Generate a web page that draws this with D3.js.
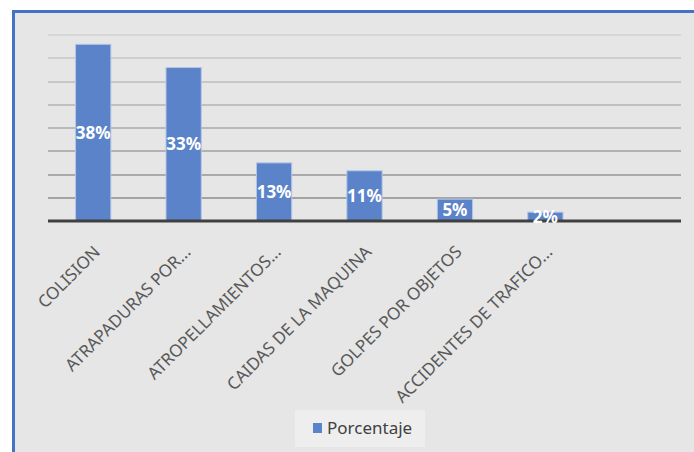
<!DOCTYPE html>
<html>
<head>
<meta charset="utf-8">
<script src="https://cdn.jsdelivr.net/npm/d3@7"></script>
<style>
  body { margin: 0; background: #fff; }
  svg { display: block; }
</style>
</head>
<body>
<svg id="chart" width="694" height="452"></svg>
<script>
const categories = ["COLISION", "ATRAPADURAS POR...", "ATROPELLAMIENTOS...", "CAIDAS DE LA MAQUINA", "GOLPES POR OBJETOS", "ACCIDENTES DE TRAFICO...", ""];
const porcentaje = [0.38, 0.33, 0.125, 0.108, 0.047, 0.019];
const percentLabels = ["38%", "33%", "13%", "11%", "5%", "2%"];
const gridTicks = [0, 0.05, 0.10, 0.15, 0.20, 0.25, 0.30, 0.35, 0.40];
const seriesName = "Porcentaje";

const svg = d3.select("#chart");
const width = 694, height = 452;
const margin = { top: 35, right: 13, bottom: 231, left: 48 };

// frame
svg.append("rect")
  .attr("x", 13.5).attr("y", 11.5)
  .attr("width", width).attr("height", height)
  .attr("fill", "#e6e6e6")
  .attr("stroke", "#4472c4").attr("stroke-width", 3);

const x = d3.scaleBand()
  .domain(categories)
  .range([margin.left, width - margin.right])
  .paddingInner(0.61).paddingOuter(0.305);

const y = d3.scaleLinear()
  .domain([0, 0.40])
  .range([height - margin.bottom, margin.top]);

const gridColor = d3.scaleLinear().domain([0.40, 0.05]).range(["#d6d6d6", "#a3a3a3"]);

// gridlines
svg.append("g")
  .selectAll("line")
  .data(gridTicks.filter(t => t > 0))
  .join("line")
  .attr("x1", margin.left).attr("x2", width - margin.right)
  .attr("y1", d => Math.round(y(d))).attr("y2", d => Math.round(y(d)))
  .attr("stroke", d => gridColor(d))
  .attr("stroke-width", 2);

// bars
const data = porcentaje.map((v, i) => ({ cat: categories[i], value: v, label: percentLabels[i] }));

svg.append("g")
  .selectAll("rect")
  .data(data)
  .join("rect")
  .attr("x", d => x(d.cat))
  .attr("y", d => y(d.value))
  .attr("width", x.bandwidth())
  .attr("height", d => y(0) - y(d.value))
  .attr("fill", "#5b83c9")
  .attr("stroke", "#b4c5e6")
  .attr("stroke-width", 1);

// axis line
svg.append("line")
  .attr("x1", margin.left).attr("x2", width - margin.right)
  .attr("y1", y(0)).attr("y2", y(0))
  .attr("stroke", "#404040").attr("stroke-width", 3);

// data labels
svg.append("g")
  .selectAll("text")
  .data(data)
  .join("text")
  .attr("x", d => x(d.cat) + x.bandwidth() / 2)
  .attr("y", d => (y(d.value) + y(0)) / 2)
  .attr("dy", "0.36em")
  .attr("text-anchor", "middle")
  .attr("fill", "#fff")
  .attr("font-family", "'Noto Sans', sans-serif")
  .attr("font-weight", "bold")
  .attr("font-size", 17)
  .text(d => d.label);

// category labels
svg.append("g")
  .selectAll("text")
  .data(categories.filter(c => c !== ""))
  .join("text")
  .attr("transform", d => `translate(${x(d) + x.bandwidth() / 2 + 8},${y(0) + 32}) rotate(-45)`)
  .attr("text-anchor", "end")
  .attr("fill", "#595959")
  .attr("font-family", "'Noto Sans', sans-serif")
  .attr("font-size", 17)
  .text(d => d);

// legend
const legend = svg.append("g");
legend.append("rect")
  .attr("x", 295).attr("y", 410).attr("width", 130).attr("height", 37)
  .attr("fill", "#eeeeee");
legend.append("rect")
  .attr("x", 313).attr("y", 423).attr("width", 9).attr("height", 10)
  .attr("fill", "#5b83c9");
legend.append("text")
  .attr("x", 327).attr("y", 428)
  .attr("dy", "0.36em")
  .attr("fill", "#404040")
  .attr("font-family", "'Noto Sans', sans-serif")
  .attr("font-size", 17)
  .text(seriesName);
</script>
</body>
</html>
